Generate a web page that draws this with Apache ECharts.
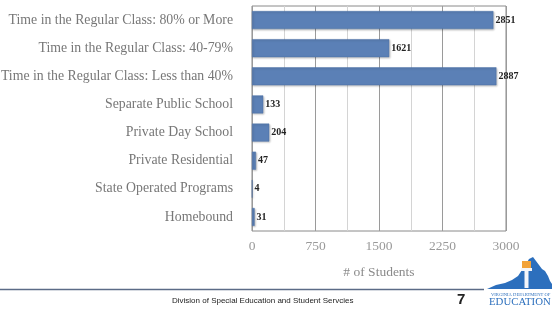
<!DOCTYPE html>
<html>
<head>
<meta charset="utf-8">
<script src="https://cdn.jsdelivr.net/npm/echarts@6/dist/echarts.min.js"></script>
<style>
  html, body { margin: 0; padding: 0; background: #fff; }
  #chart { width: 552px; height: 310px; }
</style>
</head>
<body>
<div id="chart"></div>
<script>
// settings and student counts
const categories = [
  'Time in the Regular Class: 80% or More',
  'Time in the Regular Class: 40-79%',
  'Time in the Regular Class: Less than 40%',
  'Separate Public School',
  'Private Day School',
  'Private Residential',
  'State Operated Programs',
  'Homebound'
];
const students = [2851, 1621, 2887, 133, 204, 47, 4, 31];
const xTicks = [0, 750, 1500, 2250, 3000];

const serif = '"Liberation Serif", "DejaVu Serif", serif';

const chart = echarts.init(document.getElementById('chart'));

// rough outline of the state for the logo
const vaShape = [
  [487, 289], [496, 285], [505, 283], [512, 280], [518, 276], [522, 270],
  [526, 264], [529, 259], [533, 257], [536, 261], [539, 265], [542, 269],
  [545, 271], [548, 276], [550, 281], [552, 284], [552, 289]
];

const option = {
  animation: false,
  grid: {
    left: 252, right: 46, top: 6, bottom: 79,
    outerBoundsMode: 'none',
    show: true, borderColor: '#8a8a8a', borderWidth: 1
  },
  xAxis: {
    type: 'value',
    min: xTicks[0],
    max: xTicks[xTicks.length - 1],
    interval: 750,
    axisLine: { show: false },
    axisTick: { show: false },
    splitLine: { lineStyle: { color: '#9a9a9a', width: 1 } },
    minorTick: { show: false, splitNumber: 2 },
    minorSplitLine: { show: true, lineStyle: { color: '#d4d4d4', width: 1 } },
    axisLabel: {
      color: '#999', fontFamily: serif, fontSize: 13.5, margin: 8,
      formatter: v => String(v)
    },
    name: '# of Students',
    nameLocation: 'middle',
    nameGap: 34,
    nameTextStyle: { color: '#8a8a8a', fontFamily: serif, fontSize: 13.5 }
  },
  yAxis: {
    type: 'category',
    inverse: true,
    data: categories,
    axisLine: { show: false },
    axisTick: { show: false },
    axisLabel: {
      color: '#777', fontFamily: serif, fontSize: 13.8, margin: 19
    }
  },
  series: [{
    type: 'bar',
    data: students,
    barWidth: 18,
    itemStyle: {
      color: '#5b80b6',
      borderColor: '#4f73a8',
      borderWidth: 0.5,
      shadowColor: 'rgba(0,0,0,0.25)',
      shadowBlur: 2,
      shadowOffsetX: 1,
      shadowOffsetY: 1
    },
    label: {
      show: true,
      position: 'right',
      distance: 2,
      color: '#222',
      fontFamily: serif,
      fontWeight: 'bold',
      fontSize: 10
    }
  }],
  graphic: [
    {
      type: 'line',
      shape: { x1: 0, y1: 289.5, x2: 484, y2: 289.5 },
      style: { stroke: '#5b6b87', lineWidth: 1.5 }
    },
    {
      type: 'text',
      left: 172, top: 297,
      style: {
        text: 'Division of Special Education and Student Servcies',
        fontFamily: '"Liberation Sans", Arial, sans-serif',
        fontSize: 8, fill: '#222'
      }
    },
    {
      type: 'text',
      left: 457, top: 292,
      style: {
        text: '7', fontFamily: '"Liberation Sans", Arial, sans-serif',
        fontSize: 15, fontWeight: 'bold', fill: '#222'
      }
    },
    {
      type: 'polygon',
      shape: { points: vaShape },
      style: { fill: '#2c6fbd' }
    },
    {
      type: 'rect',
      shape: { x: 522, y: 261, width: 9, height: 7 },
      style: { fill: '#f2a33a' }
    },
    {
      type: 'rect',
      shape: { x: 521, y: 268, width: 11, height: 3 },
      style: { fill: '#f4f6fa' }
    },
    {
      type: 'rect',
      shape: { x: 524.5, y: 271, width: 4, height: 17 },
      style: { fill: '#f4f6fa' }
    },
    {
      type: 'text',
      left: 491, top: 292,
      style: {
        text: 'VIRGINIA DEPARTMENT OF', fontFamily: serif,
        fontSize: 4.6, fill: '#2c6fbd'
      }
    },
    {
      type: 'text',
      left: 489, top: 297,
      style: {
        text: 'EDUCATION', fontFamily: serif,
        fontSize: 10.8, fill: '#2c6fbd'
      }
    }
  ]
};

chart.setOption(option);
</script>
</body>
</html>
